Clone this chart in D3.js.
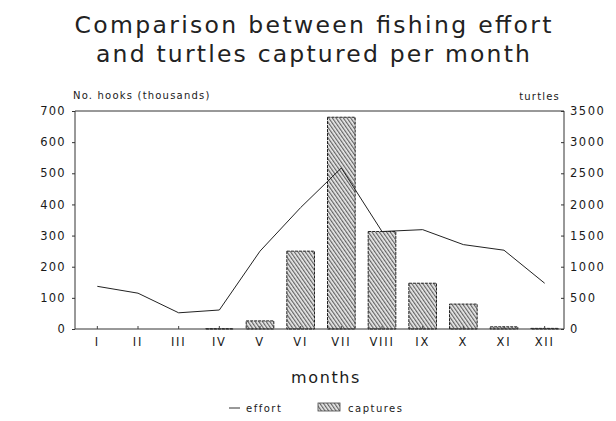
<!DOCTYPE html>
<html>
<head>
<meta charset="utf-8">
<script src="https://cdn.jsdelivr.net/npm/d3@7"></script>
<style>
  body { margin: 0; background: #fff; }
  text { font-family: "DejaVu Sans", "Liberation Sans", sans-serif; fill: #1a1a1a; }
</style>
</head>
<body>
<div id="chart"></div>
<script>
// data
var months = ['I', 'II', 'III', 'IV', 'V', 'VI', 'VII', 'VIII', 'IX', 'X', 'XI', 'XII'];
var effort = [137, 115, 52, 61, 250, 390, 517, 313, 319, 271, 253, 147];   // hooks, thousands
var captures = [0, 0, 0, 5, 130, 1250, 3400, 1565, 735, 400, 35, 10];      // turtles
var leftTicks = [0, 100, 200, 300, 400, 500, 600, 700];
var rightTicks = [0, 500, 1000, 1500, 2000, 2500, 3000, 3500];
var titleLines = ['Comparison between fishing effort', 'and turtles captured per month'];

var W = 616, H = 421;
var plot = {left: 75, right: 564, top: 111, bottom: 329};

var svg = d3.select('#chart').append('svg')
	.attr('width', W)
	.attr('height', H);

// hatch for the bars
var pat = svg.append('defs').append('pattern')
	.attr('id', 'hatch')
	.attr('patternUnits', 'userSpaceOnUse')
	.attr('width', 3)
	.attr('height', 3)
	.attr('patternTransform', 'rotate(-35)');
pat.append('rect').attr('width', 3).attr('height', 3).attr('fill', '#ececec');
pat.append('line')
	.attr('x1', 0.7).attr('y1', 0).attr('x2', 0.7).attr('y2', 3)
	.attr('stroke', '#444').attr('stroke-width', 1);

var x = d3.scaleBand()
	.domain(months)
	.range([77, 565])
	.paddingInner(0.32)
	.paddingOuter(0.16);

var yL = d3.scaleLinear().domain([0, 700]).range([plot.bottom, plot.top]);
var yR = d3.scaleLinear().domain([0, 3500]).range([plot.bottom, plot.top]);

// title
svg.selectAll('text.title')
	.data(titleLines)
	.enter().append('text')
	.attr('class', 'title')
	.attr('x', 313)
	.attr('y', function(d, i) { return 33 + i * 29; })
	.attr('text-anchor', 'middle')
	.attr('textLength', function(d, i) { return i == 0 ? 477 : 434; })
	.attr('lengthAdjust', 'spacing')
	.style('font-size', '23.5px')
	.style('fill', '#222')
	.text(function(d) { return d; });

// bars
svg.selectAll('rect.bar')
	.data(captures)
	.enter().append('rect')
	.attr('class', 'bar')
	.attr('x', function(d, i) { return x(months[i]); })
	.attr('width', x.bandwidth())
	.attr('y', function(d) { return yR(d); })
	.attr('height', function(d) { return yR(0) - yR(d); })
	.attr('fill', 'url(#hatch)')
	.attr('stroke', function(d) { return d > 0 ? '#222' : 'none'; })
	.attr('stroke-width', 1)
	.attr('stroke-dasharray', '3,1');

// frame: left axis, right axis, top, baseline
var frame = svg.append('g').attr('stroke', '#333').attr('stroke-width', 1).attr('fill', 'none');
frame.append('line').attr('x1', plot.left).attr('x2', plot.left).attr('y1', plot.top).attr('y2', plot.bottom);
frame.append('line').attr('x1', plot.right).attr('x2', plot.right).attr('y1', plot.top).attr('y2', plot.bottom);
frame.append('line').attr('x1', plot.left).attr('x2', plot.right).attr('y1', plot.top).attr('y2', plot.top);
frame.append('line').attr('x1', plot.left).attr('x2', plot.right).attr('y1', plot.bottom).attr('y2', plot.bottom);

// left axis
var axL = svg.append('g')
	.attr('transform', 'translate(' + plot.left + ',0)')
	.call(d3.axisLeft(yL).tickValues(leftTicks).tickSize(3).tickPadding(6).tickFormat(d3.format('d')));
axL.select('.domain').remove();
axL.selectAll('line').attr('stroke', '#333');
axL.selectAll('text')
	.style('font-size', '11.5px')
	.style('letter-spacing', '1.3px')
	.attr('fill', '#1a1a1a');

// right axis
var axR = svg.append('g')
	.attr('transform', 'translate(' + plot.right + ',0)')
	.call(d3.axisRight(yR).tickValues(rightTicks).tickSize(-3).tickPadding(6).tickFormat(d3.format('d')));
axR.select('.domain').remove();
axR.selectAll('line').attr('stroke', '#333');
axR.selectAll('text')
	.style('font-size', '11.5px')
	.style('letter-spacing', '1.5px')
	.attr('fill', '#1a1a1a');

// month axis
var axX = svg.append('g')
	.attr('transform', 'translate(0,' + plot.bottom + ')')
	.call(d3.axisBottom(x).tickSize(-3).tickPadding(9));
axX.select('.domain').remove();
axX.selectAll('line').attr('stroke', '#444');
axX.selectAll('text')
	.style('font-size', '11.5px')
	.style('letter-spacing', '1.8px')
	.attr('fill', '#1a1a1a');

// effort line, on top of the bars
var line = d3.line()
	.x(function(d, i) { return x(months[i]) + x.bandwidth() / 2; })
	.y(function(d) { return yL(d); });

svg.append('path')
	.datum(effort)
	.attr('d', line)
	.attr('fill', 'none')
	.attr('stroke', '#222')
	.attr('stroke-width', 1);

// axis titles
svg.append('text')
	.attr('x', 73).attr('y', 99)
	.style('font-size', '10px')
	.style('letter-spacing', '1.2px')
	.text('No. hooks (thousands)');

svg.append('text')
	.attr('x', 560).attr('y', 100)
	.attr('text-anchor', 'end')
	.style('font-size', '10px')
	.style('letter-spacing', '1.2px')
	.text('turtles');

svg.append('text')
	.attr('x', 326).attr('y', 383)
	.attr('text-anchor', 'middle')
	.style('font-size', '16px')
	.style('letter-spacing', '1.6px')
	.text('months');

// legend
var leg = svg.append('g');
leg.append('line')
	.attr('x1', 229).attr('x2', 240).attr('y1', 408).attr('y2', 408)
	.attr('stroke', '#333').attr('stroke-width', 1);
leg.append('text')
	.attr('x', 246).attr('y', 412)
	.style('font-size', '10px')
	.style('letter-spacing', '1.5px')
	.text('effort');
leg.append('rect')
	.attr('x', 318).attr('y', 403).attr('width', 22).attr('height', 8)
	.attr('fill', 'url(#hatch)')
	.attr('stroke', '#444').attr('stroke-width', 0.8);
leg.append('text')
	.attr('x', 348).attr('y', 412)
	.style('font-size', '10px')
	.style('letter-spacing', '1.5px')
	.text('captures');
</script>
</body>
</html>
